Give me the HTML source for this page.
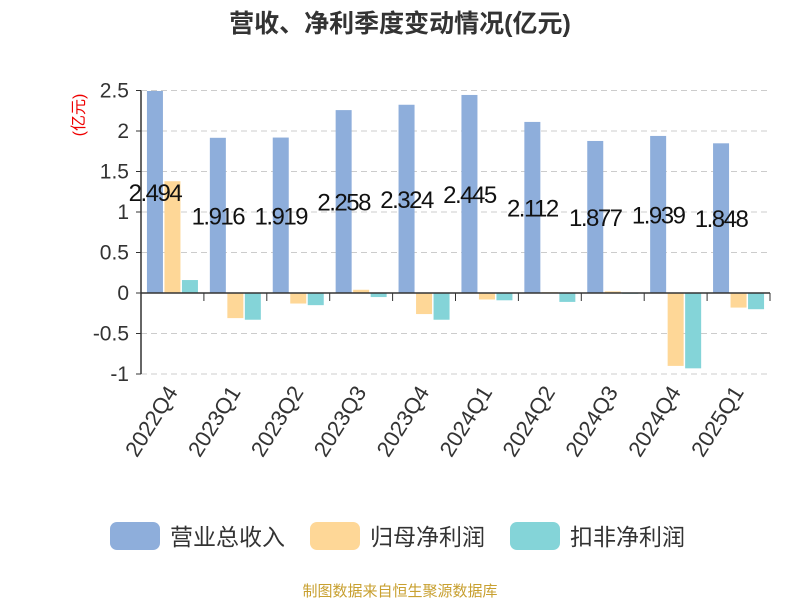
<!DOCTYPE html>
<html><head><meta charset="utf-8"><style>
body{margin:0;background:#fff;}
svg text{font-family:"Liberation Sans","Noto Sans CJK SC",sans-serif;}
</style></head><body>
<svg width="800" height="600" viewBox="0 0 800 600">
<text x="400" y="32" text-anchor="middle" font-size="25" font-weight="bold" fill="#333">营收、净利季度变动情况(亿元)</text>
<text transform="translate(84,115) rotate(-90)" text-anchor="middle" font-size="16" fill="#e00">(亿元)</text>
<g id="grid"></g><g id="bars"></g><g id="labels"></g><g id="xaxis"></g>
<g>
<rect x="110" y="522" width="50" height="28" rx="7" fill="#8eaedb"/>
<text x="170" y="545" font-size="23" fill="#333">营业总收入</text>
<rect x="310" y="522" width="50" height="28" rx="7" fill="#fed797"/>
<text x="370" y="545" font-size="23" fill="#333">归母净利润</text>
<rect x="510" y="522" width="50" height="28" rx="7" fill="#84d4d8"/>
<text x="570" y="545" font-size="23" fill="#333">扣非净利润</text>
</g>
<text x="400" y="596" text-anchor="middle" font-size="15" fill="#c8a030">制图数据来自恒生聚源数据库</text>
</svg>
<script>
const categories=["2022Q4","2023Q1","2023Q2","2023Q3","2023Q4","2024Q1","2024Q2","2024Q3","2024Q4","2025Q1"];
const revenue=[2.494,1.916,1.919,2.258,2.324,2.445,2.112,1.877,1.939,1.848];
const netProfit=[1.38,-0.31,-0.13,0.04,-0.26,-0.08,0.01,0.02,-0.9,-0.18];
const deductedProfit=[0.16,-0.33,-0.15,-0.05,-0.33,-0.09,-0.11,-0.01,-0.93,-0.2];
const yTicks=[2.5,2,1.5,1,0.5,0,-0.5,-1];
const NS="http://www.w3.org/2000/svg";
const X0=141,X1=770,Y0=293,PX=81;
const cw=(X1-X0)/categories.length;
const y=v=>Y0-v*PX;
function mk(tag,attrs,parent){const e=document.createElementNS(NS,tag);for(const k in attrs)e.setAttribute(k,attrs[k]);document.getElementById(parent).appendChild(e);return e;}
yTicks.forEach(t=>{
 if(t!==0){const g=mk('line',{x1:X0,x2:X1,y1:y(t),y2:y(t),stroke:'#ccc','stroke-dasharray':'6,4'},'grid');
 
 }
 const tx=mk('text',{x:X0-12,y:y(t)+7,'text-anchor':'end','font-size':21,fill:'#333'},'grid');tx.textContent=t;
 
 
 const tk=mk('line',{x1:X0-5,x2:X0,y1:y(t),y2:y(t),stroke:'#333'},'grid');
 
 
});
const ya=mk('line',{x1:X0,x2:X0,y1:y(2.5),y2:y(-1),stroke:'#333','stroke-width':1.5},'xaxis');


const xa=mk('line',{x1:X0,x2:X1,y1:Y0,y2:Y0,stroke:'#333','stroke-width':1.5},'xaxis');


const series=[[revenue,'#8eaedb','bar-revenue'],[netProfit,'#fed797','bar-net-profit'],[deductedProfit,'#84d4d8','bar-deducted-profit']];
const bw=16,gap=1.5;
categories.forEach((c,i)=>{
 const cx=X0+cw*(i+0.5);
 series.forEach((s,j)=>{
  const v=s[0][i];const bx=cx+(j-1)*(bw+gap)-bw/2;
  const top=Math.min(y(v),Y0),h=Math.abs(y(v)-Y0);
  const r=mk('rect',{x:bx,y:top,width:bw,height:Math.max(h,0.5),fill:s[1]},'bars');
  
  
  if(j===0){const l=mk('text',{x:bx+bw/2,y:(y(v)+Y0)/2+9,'text-anchor':'middle','font-size':24,'letter-spacing':'-1.5',fill:'#111'},'labels');l.textContent=v;
   
   }
 });
 const tk=mk('line',{x1:X0+cw*(i+1),x2:X0+cw*(i+1),y1:Y0,y2:Y0+8,stroke:'#333'},'xaxis');
 
 
 const t=mk('text',{transform:`translate(${cx+6},${y(-1)+18}) rotate(-58)`,'text-anchor':'end','font-size':22,fill:'#333'},'xaxis');t.textContent=c;
 
 
});
</script>
</body></html>
